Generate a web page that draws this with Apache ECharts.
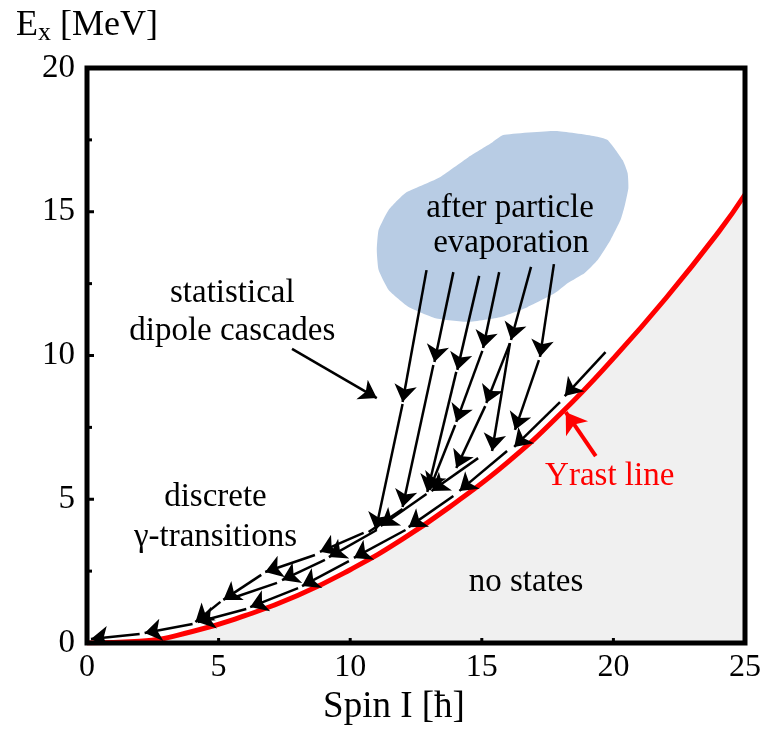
<!DOCTYPE html>
<html>
<head>
<meta charset="utf-8">
<script src="https://cdn.jsdelivr.net/npm/echarts@6/dist/echarts.min.js"></script>
<style>
  html, body { margin: 0; padding: 0; background: #fff; }
  #chart { width: 764px; height: 731px; }
</style>
</head>
<body>
<div id="chart"></div>
<script>
// yrast line (spin, energy)
var yrastSpin = [0, 2, 4, 6, 8, 10, 12, 14, 16, 18, 20, 22, 24, 25];
var yrastEnergy = [0, 0.06, 0.4, 0.95, 1.65, 2.55, 3.62, 4.88, 6.3, 7.98, 9.9, 12.0, 14.3, 15.6];

// blob of states after particle evaporation (outline)
var blobSpin = [15.81, 17.81, 19.29, 19.78, 20.35, 20.54, 20.57, 20.42, 20.27, 19.89, 19.40, 18.91, 18.27, 17.78,
    16.75, 15.73, 14.49, 13.24, 12.22, 11.46, 11.08, 11.01, 11.08, 11.46, 12.10, 13.35, 14.49, 15.36];
var blobEnergy = [17.67, 17.81, 17.63, 17.50, 16.80, 16.35, 15.83, 15.17, 14.71, 14.02, 13.32, 12.87, 12.52, 12.17,
    11.69, 11.34, 11.17, 11.30, 11.69, 12.28, 12.97, 13.67, 14.37, 15.06, 15.65, 16.17, 16.90, 17.39];

// statistical cascades [spinFrom, eFrom, spinTo, eTo]
var cascadeArrows = [
    [12.90, 12.97, 11.99, 8.38], [11.99, 8.31, 10.97, 3.93],
    [13.92, 12.90, 13.20, 9.77], [13.16, 9.67, 11.99, 4.73],
    [14.90, 12.77, 14.07, 9.50], [14.03, 9.43, 12.93, 5.25],
    [15.66, 12.90, 15.05, 10.26], [15.02, 10.16, 14.03, 7.69], [13.99, 7.58, 13.01, 5.32],
    [16.87, 13.08, 16.11, 10.54], [16.07, 10.43, 15.17, 8.35], [15.13, 8.24, 14.03, 6.09],
    [16.07, 10.43, 15.39, 6.68],
    [17.74, 13.18, 17.21, 9.95], [17.17, 9.84, 16.26, 7.41]
];

// discrete gamma transitions
var discreteArrows = [
    // along the yrast line
    [19.70, 10.12, 18.15, 8.59], [17.97, 8.38, 16.23, 6.82], [15.96, 6.68, 14.15, 5.29],
    [13.92, 5.11, 12.22, 4.03], [12.10, 3.93, 10.14, 2.96], [9.95, 2.85, 8.17, 1.98],
    [8.02, 1.91, 6.20, 1.25], [6.05, 1.18, 4.20, 0.73], [4.01, 0.66, 2.19, 0.35],
    [2.00, 0.31, 0.15, 0.14],
    // middle band
    [14.86, 6.43, 13.09, 5.29], [12.90, 5.18, 11.16, 4.07], [11.01, 3.93, 9.19, 2.99],
    [9.04, 2.89, 7.41, 2.19],
    // upper band
    [10.51, 3.83, 8.85, 3.17], [8.66, 3.06, 6.77, 2.47], [6.62, 2.37, 5.18, 1.50],
    [5.07, 1.43, 4.12, 0.73],
    // label arrow
    [7.79, 10.23, 11.01, 8.52]
];
var plainSegments = [
    [11.99, 4.66, 10.70, 3.86],
    [7.22, 2.09, 5.64, 1.60]
];
var yrastPointer = [[19.33, 6.50, 18.19, 8.03]];

// annotations [spin, energy, text, colour]
var notes = [
    [16.07, 15.13, 'after particle', '#000'],
    [16.11, 13.91, 'evaporation', '#000'],
    [5.52, 12.17, 'statistical', '#000'],
    [5.52, 10.85, 'dipole cascades', '#000'],
    [4.88, 5.08, 'discrete', '#000'],
    [4.88, 3.69, 'γ-transitions', '#000'],
    [19.86, 5.81, 'Yrast line', '#ff0000'],
    [16.68, 2.12, 'no states', '#000']
];

// tick positions on the frame
var spinTicks = [5, 10, 15, 20];
var energyTicks = [2.5, 5, 7.5, 10, 12.5, 15, 17.5];

var FONT = '"Liberation Serif", "DejaVu Serif", serif';

function toLines(arr) {
    return arr.map(function (a) {
        return {coords: [[a[0], a[1]], [a[2], a[3]]]};
    });
}

var chart = echarts.init(document.getElementById('chart'));

chart.setOption({
    animation: false,
    backgroundColor: '#fff',
    grid: {left: 87, top: 68, right: 16, bottom: 88},
    xAxis: {
        type: 'value', min: 0, max: 25, interval: 5,
        axisLine: {show: false},
        axisTick: {show: false},
        splitLine: {show: false},
        axisLabel: {color: '#000', fontFamily: FONT, fontSize: 32, margin: 9},
        name: 'Spin I [ħ]',
        nameLocation: 'middle',
        nameGap: 44,
        nameTextStyle: {color: '#000', fontFamily: FONT, fontSize: 37, padding: [0, 44, 0, 0]}
    },
    yAxis: {
        type: 'value', min: 0, max: 20, interval: 5,
        axisLine: {show: false},
        axisTick: {show: false},
        splitLine: {show: false},
        axisLabel: {color: '#000', fontFamily: FONT, fontSize: 33, margin: 12},
        name: '{e|E}{s|x}{e| [MeV]}',
        nameLocation: 'end',
        nameGap: 22,
        nameTextStyle: {
            color: '#000',
            rich: {
                e: {fontFamily: FONT, fontSize: 36, lineHeight: 40, color: '#000'},
                s: {fontFamily: FONT, fontSize: 26, lineHeight: 18, verticalAlign: 'bottom', color: '#000'}
            }
        }
    },
    series: [
        {
            // evaporation blob
            type: 'custom',
            coordinateSystem: 'cartesian2d',
            silent: true,
            z: 1,
            data: [[0, 0]],
            renderItem: function (params, api) {
                return {
                    type: 'polygon',
                    shape: {
                        points: blobSpin.map(function (x, i) {
                            return api.coord([x, blobEnergy[i]]);
                        }),
                        smooth: 0.15
                    },
                    style: {fill: '#b8cce4'}
                };
            }
        },
        {
            name: 'Yrast',
            type: 'line',
            smooth: true,
            symbol: 'none',
            z: 4,
            data: yrastSpin.map(function (s, i) { return [s, yrastEnergy[i]]; }),
            lineStyle: {color: '#ff0000', width: 5},
            areaStyle: {color: '#f0f0f0', opacity: 1}
        },
        {
            type: 'lines',
            coordinateSystem: 'cartesian2d',
            silent: true,
            z: 5,
            symbol: ['none', 'arrow'],
            symbolSize: 17,
            lineStyle: {color: '#000', width: 2.5, opacity: 1, curveness: 0},
            data: toLines(cascadeArrows.concat(discreteArrows))
        },
        {
            type: 'lines',
            coordinateSystem: 'cartesian2d',
            silent: true,
            z: 5,
            symbol: ['none', 'none'],
            lineStyle: {color: '#000', width: 2.5, opacity: 1, curveness: 0},
            data: toLines(plainSegments)
        },
        {
            type: 'lines',
            coordinateSystem: 'cartesian2d',
            silent: true,
            z: 5,
            symbol: ['none', 'arrow'],
            symbolSize: 20,
            lineStyle: {color: '#ff0000', width: 4, opacity: 1, curveness: 0},
            data: toLines(yrastPointer)
        },
        {
            type: 'scatter',
            silent: true,
            z: 6,
            symbolSize: 0,
            itemStyle: {color: '#fff', opacity: 0},
            data: notes.map(function (n) {
                return {value: [n[0], n[1]], name: n[2], label: {color: n[3]}};
            }),
            label: {
                show: true,
                position: 'inside',
                formatter: '{b}',
                fontFamily: FONT,
                fontSize: 33,
                opacity: 1,
                textBorderWidth: 0
            }
        },
        {
            // plot frame with inward ticks
            type: 'custom',
            coordinateSystem: 'cartesian2d',
            silent: true,
            z: 20,
            data: [[0, 0]],
            renderItem: function (params, api) {
                var p0 = api.coord([0, 0]);
                var p1 = api.coord([25, 20]);
                var children = [{
                    type: 'rect',
                    shape: {x: p0[0], y: p1[1], width: p1[0] - p0[0], height: p0[1] - p1[1]},
                    style: {fill: 'none', stroke: '#000', lineWidth: 5}
                }];
                spinTicks.forEach(function (s) {
                    var p = api.coord([s, 0]);
                    children.push({type: 'line', shape: {x1: p[0], y1: p[1], x2: p[0], y2: p[1] - 5},
                        style: {stroke: '#000', lineWidth: 3}});
                });
                energyTicks.forEach(function (e) {
                    var p = api.coord([0, e]);
                    var len = e % 5 === 0 ? 7 : 5;
                    children.push({type: 'line', shape: {x1: p[0], y1: p[1], x2: p[0] + len, y2: p[1]},
                        style: {stroke: '#000', lineWidth: 3}});
                });
                return {type: 'group', children: children};
            }
        }
    ]
});
</script>
</body>
</html>
